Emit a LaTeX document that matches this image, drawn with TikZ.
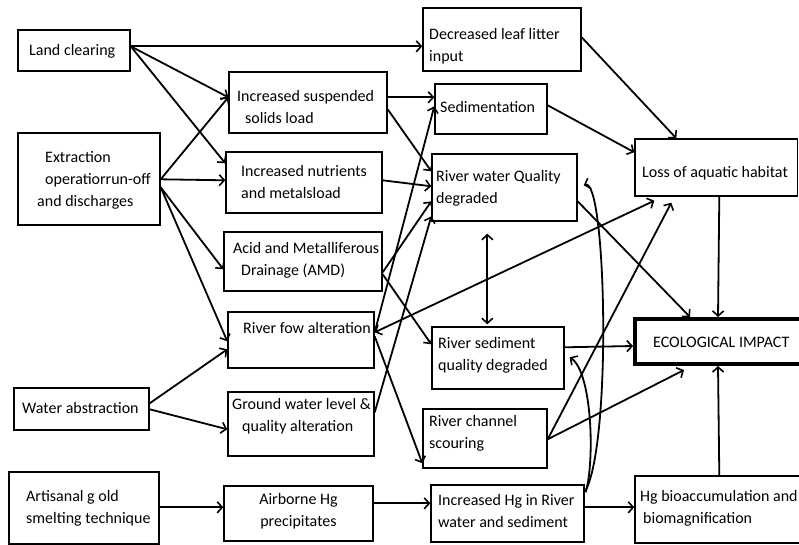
\documentclass[tikz,border=0pt]{standalone}
\usepackage{fontspec}
\setmainfont{Carlito}
\usetikzlibrary{arrows.meta,calc,fit}
\begin{document}
\begin{tikzpicture}[x=1pt,y=-1pt,
  box/.style={draw,line width=1.4pt,inner sep=0pt},
  txt/.style={anchor=west,align=left,inner sep=0pt,font=\fontsize{16}{22}\selectfont},
  ctxt/.style={align=center,inner sep=0pt,font=\fontsize{16}{22}\selectfont},
  barb/.tip={Straight Barb[length=5pt,width=11pt,line width=1.6pt]},
  arr/.style={line width=1.8pt,-barb},
  arrboth/.style={line width=1.8pt,barb-barb}]
\useasboundingbox (0,0) rectangle (799,545);
% boxes
\node[box,fit={(18,30) (130,71)}] (LC) {};
\node[box,fit={(18,133) (160,225)}] (EX) {};
\node[box,fit={(14,388) (149,430)}] (WA) {};
\node[box,fit={(9,472) (159,544)}] (AR) {};
\node[box,fit={(229,72) (387,133)}] (ISS) {};
\node[box,fit={(226,152) (382,213)}] (INM) {};
\node[box,fit={(224,232) (382,291)}] (AMD) {};
\node[box,fit={(228,312) (374,368)}] (RFA) {};
\node[box,fit={(228,392) (374,456)}] (GW) {};
\node[box,fit={(224,486) (373,541)}] (AHG) {};
\node[box,fit={(423,8) (581,71)}] (DLL) {};
\node[box,fit={(435,84) (547,134)}] (SED) {};
\node[box,fit={(432,154) (577,221)}] (RWQ) {};
\node[box,fit={(635,139) (797.5,196)}] (LOSS) {};
\node[box,fit={(432,327) (564,389)}] (RSQ) {};
\node[box,fit={(423,409) (547,468)}] (RCS) {};
\node[box,fit={(431,485) (584,542)}] (IHG) {};
\node[box,line width=4pt,fit={(635,319) (810,364)}] (ECO) {};
\node[box,fit={(635,476) (810,543)}] (HGB) {};
% texts
\node[txt] (LCt) at (29,51) {Land clearing};
\node[txt] (EXt) at (37,180) {\hspace*{8pt}Extraction\\\hspace*{8pt}operatiorrun-off\\and discharges};
\node[txt] (WAt) at (22,408) {Water abstraction};
\node[txt] (ARt) at (26,508) {Artisanal g old\\smelting technique};
\node[txt] (ISSt) at (237,107) {Increased suspended\\\hspace*{8pt}solids load};
\node[txt] (INMt) at (241,182) {Increased nutrients\\and metalsload};
\node[txt] (AMDt) at (233,260) {Acid and Metalliferous\\\hspace*{8pt}Drainage (AMD)};
\node[txt] (RFAt) at (243,328) {River fow alteration};
\node[txt] (GWt) at (232,416) {Ground water level \&\\\hspace*{10pt}quality alteration};
\node[ctxt] (AHGt) at (298.5,511) {Airborne Hg\\precipitates};
\node[txt] (DLLt) at (429,46) {Decreased leaf litter\\input};
\node[txt] (SEDt) at (440,107) {Sedimentation};
\node[txt] (RWQt) at (436,188) {River water Quality\\degraded};
\node[txt] (LOSSt) at (642,173) {Loss of aquatic habitat};
\node[txt] (RSQt) at (438,355) {River sediment\\quality degraded};
\node[txt] (RCSt) at (429,433) {River channel\\scouring};
\node[txt] (IHGt) at (438,511) {Increased Hg in River\\water and sediment};
\node[txt] (ECOt) at (653,342) {ECOLOGICAL IMPACT};
\node[txt] (HGBt) at (640,508) {Hg bioaccumulation and\\\hspace*{3pt}biomagnification};
% connectors
\draw[arr] ($(LC.north east)+(0,17)$) -- ($(DLL.north west)+(0,39)$);
\draw[arr] ($(LC.north east)+(0,17)$) -- ($(ISS.north west)+(0,26)$);
\draw[arr] ($(LC.north east)+(0,17)$) -- ($(INM.north west)+(0,12)$);
\draw[arr] ($(EX.north east)+(0,47)$) -- ($(ISS.north west)+(0,26)$);
\draw[arr] ($(EX.north east)+(0,47)$) -- ($(INM.north west)+(0,29)$);
\draw[arr] ($(EX.north east)+(0,55)$) -- ($(AMD.north west)+(0,38)$);
\draw[arr] ($(EX.north east)+(0,55)$) -- ($(RFA.north west)+(0,30)$);
\draw[arr] ($(WA.north east)+(0,16)$) -- ($(RFA.north west)+(0,38)$);
\draw[arr] ($(WA.north east)+(0,22)$) -- ($(GW.north west)+(0,38)$);
\draw[arr] ($(AR.north east)+(0,36)$) -- ($(AHG.north west)+(0,22)$);
\draw[arr] ($(AHG.north east)+(0,18)$) -- ($(IHG.north west)+(0,19)$);
\draw[arr] ($(IHG.north east)+(0,23)$) -- ($(HGB.north west)+(0,32)$);
\draw[arr] ($(HGB.north west)+(85,0)$) -- ($(ECO.south west)+(85,0)$);
\draw[arr] ($(LOSS.south west)+(85,0)$) -- ($(ECO.north west)+(85,0)$);
\draw[arr] ($(DLL.north east)+(0,30)$) -- ($(LOSS.north west)+(42,0)$);
\draw[arr] ($(SED.north east)+(0,22)$) -- ($(LOSS.north west)+(0,14)$);
\draw[arr] ($(ISS.north east)+(0,26)$) -- ($(SED.north west)+(0,14)$);
\draw[arr] ($(ISS.north east)+(0,38)$) -- ($(RWQ.north west)+(0,18)$);
\draw[arr] ($(INM.north east)+(0,29)$) -- ($(RWQ.north west)+(0,33)$);
\draw[arr] ($(AMD.north east)+(0,41)$) -- ($(RWQ.north west)+(0,48)$);
\draw[arr] ($(AMD.north east)+(0,43)$) -- ($(RSQ.north west)+(0,18)$);
\draw[arr] ($(RFA.north east)+(0,21)$) -- ($(SED.north west)+(0,23)$);
\draw[arr] ($(GW.north east)+(0,21)$) -- ($(RWQ.north west)+(0,63)$);
\draw[arrboth] ($(RFA.north east)+(0,21)$) -- ($(LOSS.south west)+(20,4)$);
\draw[arr] ($(RFA.north east)+(0,25)$) -- ($(RCS.north west)+(0,55)$);
\draw[arrboth] ($(RWQ.south west)+(56,12)$) -- ($(RSQ.north west)+(56,-2)$);
\draw[arr] ($(RWQ.north east)+(0,48)$) -- ($(ECO.north west)+(57,0)$);
\draw[arr] ($(RSQ.north east)+(0,21)$) -- ($(ECO.north west)+(0,29)$);
\draw[arr] ($(RCS.north east)+(0,31)$) -- ($(ECO.south west)+(51,4)$);
\draw[arr] ($(RCS.north east)+(0,31)$) -- ($(LOSS.south west)+(37,6)$);
\draw[arr] ($(IHG.north east)+(1,6)$) .. controls (612,440) and (606,178) .. ($(RWQ.north east)+(6,32)$);
\draw[arr] ($(IHG.north east)+(1,8)$) .. controls (595,460) and (592,372) .. ($(RSQ.north east)+(5,31)$);
\end{tikzpicture}
\end{document}
